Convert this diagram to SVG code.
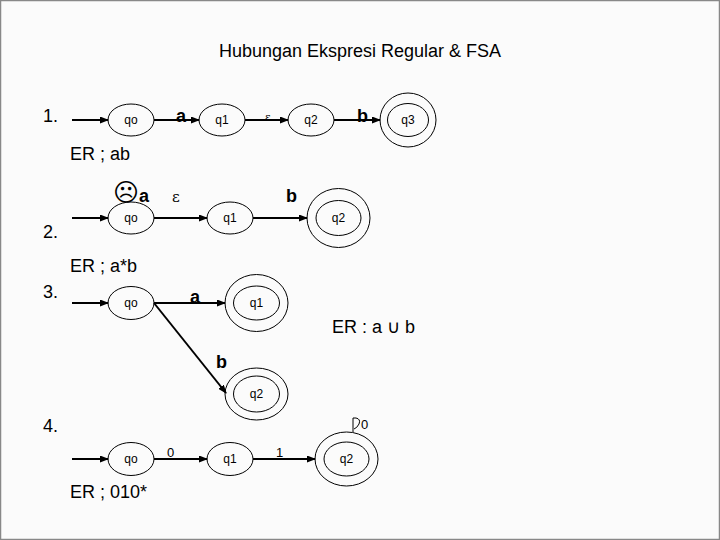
<svg xmlns="http://www.w3.org/2000/svg" width="720" height="540" viewBox="0 0 720 540">
<defs>
<marker id="ah" markerWidth="9" markerHeight="7" refX="8" refY="3.5" orient="auto" markerUnits="userSpaceOnUse">
<path d="M0,0 L9,3.5 L0,7 z" fill="#000"/>
</marker>
<style>
.st{fill:none;stroke:#000;stroke-width:1}
.ln{fill:none;stroke:#000;stroke-width:2;marker-end:url(#ah)}
.sl{font-family:"Liberation Sans",Arial,sans-serif;font-size:12px;text-anchor:middle;fill:#000}
.lb{font-family:"Liberation Sans",Arial,sans-serif;font-size:18px;font-weight:bold;fill:#000}
.tx{font-family:"Liberation Sans",Arial,sans-serif;font-size:18px;fill:#000}
.eps{font-family:"DejaVu Serif",serif;fill:#000}
.th{font-family:"Liberation Sans",Arial,sans-serif;font-size:13px;fill:#000}
</style>
</defs>
<rect x="0.5" y="0.5" width="719" height="539" fill="#fbfbfb" stroke="#888" stroke-width="1.5"/>
<text x="360" y="57" class="tx" text-anchor="middle">Hubungan Ekspresi Regular &amp; FSA</text>

<g id="connectors">
<line class="ln" x1="72" y1="120" x2="108" y2="120"/>
<line class="ln" x1="154" y1="120" x2="199" y2="120"/>
<line class="ln" x1="245" y1="120" x2="288" y2="120"/>
<line class="ln" x1="334" y1="120" x2="380" y2="120"/>
<line class="ln" x1="72" y1="218" x2="108" y2="218"/>
<line class="ln" x1="154" y1="218" x2="207" y2="218"/>
<line class="ln" x1="253" y1="218" x2="307" y2="218"/>
<line class="ln" x1="72" y1="303" x2="108" y2="303"/>
<line class="ln" x1="154" y1="303" x2="225" y2="303"/>
<line class="ln" x1="154" y1="303" x2="226" y2="393"/>
<line class="ln" x1="72" y1="459" x2="108" y2="459"/>
<line class="ln" x1="154" y1="459" x2="207" y2="459"/>
<line class="ln" x1="253" y1="459" x2="315" y2="459"/>
<path d="M353,432 L353,418 L356,418 Q361,419 359,424 Q357,428 354,429" fill="none" stroke="#000" stroke-width="1"/>
</g>

<g id="labels">
<text x="176" y="122" class="lb">a</text>
<text x="265" y="121" class="eps" font-size="11">ε</text>
<text x="357" y="122" class="lb">b</text>
<text x="126" y="201" font-family="DejaVu Sans,sans-serif" font-size="25" text-anchor="middle">☹</text>
<text x="139" y="202" class="lb">a</text>
<text x="172" y="202" class="eps" font-size="15">ε</text>
<text x="286" y="202" class="lb">b</text>
<text x="190" y="303" class="lb">a</text>
<text x="216" y="368" class="lb">b</text>
<text x="167" y="457" class="th">0</text>
<text x="276" y="457" class="th">1</text>
<text x="361" y="429" class="th">0</text>
</g>

<g id="text">
<text x="43" y="122" class="tx">1.</text>
<text x="70" y="160" class="tx">ER ; ab</text>
<text x="43" y="238" class="tx">2.</text>
<text x="70" y="272" class="tx">ER ; a*b</text>
<text x="43" y="298" class="tx">3.</text>
<text x="332" y="333" class="tx">ER : a ∪ b</text>
<text x="43" y="432" class="tx">4.</text>
<text x="70" y="498" class="tx">ER ; 010*</text>
</g>

<g id="n1-qo"><ellipse class="st" cx="131" cy="120" rx="23" ry="16"/><text class="sl" x="131" y="124">qo</text></g>
<g id="n1-q1"><ellipse class="st" cx="222" cy="120" rx="23" ry="16"/><text class="sl" x="222" y="124">q1</text></g>
<g id="n1-q2"><ellipse class="st" cx="311" cy="120" rx="23" ry="16"/><text class="sl" x="311" y="124">q2</text></g>
<g id="n1-q3"><ellipse class="st" cx="408" cy="120" rx="28" ry="27"/><ellipse class="st" cx="408" cy="120" rx="20.5" ry="16.5"/><text class="sl" x="408" y="124">q3</text></g>

<g id="n2-qo"><ellipse class="st" cx="131" cy="218" rx="23" ry="16"/><text class="sl" x="131" y="222">qo</text></g>
<g id="n2-q1"><ellipse class="st" cx="230" cy="218" rx="23" ry="16"/><text class="sl" x="230" y="222">q1</text></g>
<g id="n2-q2"><ellipse class="st" cx="338.5" cy="218" rx="31.5" ry="29.5"/><ellipse class="st" cx="338.5" cy="218" rx="22.5" ry="17.5"/><text class="sl" x="338.5" y="222">q2</text></g>

<g id="n3-qo"><ellipse class="st" cx="131" cy="303" rx="23" ry="16.5"/><text class="sl" x="131" y="307">qo</text></g>
<g id="n3-q1"><ellipse class="st" cx="256.5" cy="303" rx="31.5" ry="28.5"/><ellipse class="st" cx="256.5" cy="303" rx="23" ry="17"/><text class="sl" x="256.5" y="307">q1</text></g>
<g id="n3-q2"><ellipse class="st" cx="256.5" cy="394" rx="31.5" ry="26"/><ellipse class="st" cx="256.5" cy="394" rx="23" ry="18"/><text class="sl" x="256.5" y="398">q2</text></g>

<g id="n4-qo"><ellipse class="st" cx="131" cy="459" rx="23" ry="16.5"/><text class="sl" x="131" y="463">qo</text></g>
<g id="n4-q1"><ellipse class="st" cx="230" cy="459" rx="23" ry="16.5"/><text class="sl" x="230" y="463">q1</text></g>
<g id="n4-q2"><ellipse class="st" cx="346.5" cy="459" rx="31.5" ry="27"/><ellipse class="st" cx="346.5" cy="459" rx="22.5" ry="17"/><text class="sl" x="346.5" y="463">q2</text></g>
</svg>
